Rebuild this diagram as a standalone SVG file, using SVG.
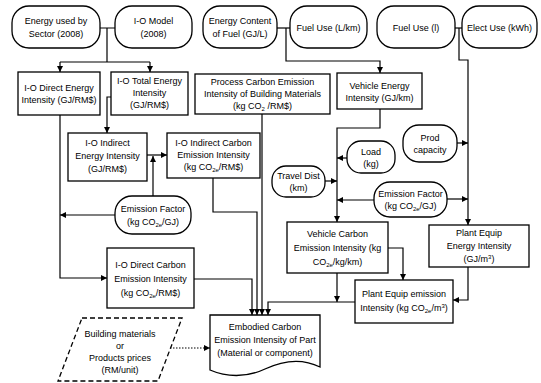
<svg xmlns="http://www.w3.org/2000/svg" width="541" height="383" viewBox="0 0 541 383">
<defs>
<style>
text{font-family:"Liberation Sans",Arial,sans-serif;font-size:9px;fill:#000;text-anchor:middle}
.s{font-size:6px}
.box{fill:#fff;stroke:#000;stroke-width:1.3}
.ln{fill:none;stroke:#000;stroke-width:1.2}
.arr{fill:none;stroke:#000;stroke-width:1.2;marker-end:url(#ah)}
.dash{fill:#fff;stroke:#000;stroke-width:1.3;stroke-dasharray:5 3}
.dot{fill:none;stroke:#000;stroke-width:1.2;stroke-dasharray:1.5 1.5;marker-end:url(#ah)}
</style>
<marker id="ah" viewBox="0 0 10 10" refX="10" refY="5" markerWidth="6" markerHeight="6" orient="auto" markerUnits="userSpaceOnUse"><path d="M0,0 L10,5 L0,10 z" fill="#000"/></marker>
</defs>
<rect width="541" height="383" fill="#fff"/>

<g id="connectors">
<path class="ln" d="M100,28 H115 M107,28 V62 M60,62 H150"/>
<path class="arr" d="M60,62 V72"/>
<path class="arr" d="M150,62 V72"/>
<path class="ln" d="M277,28 H290"/>
<path class="arr" d="M286,28 V61 H380 V73"/>
<path class="ln" d="M455,28 H462"/>
<path class="arr" d="M459,28 V60 H468 V225"/>
<path class="arr" d="M111,97 H107 V133"/>
<path class="arr" d="M147,155 H167"/>
<path class="arr" d="M153,196 V156"/>
<path class="arr" d="M60,115 V278 H107"/>
<path class="arr" d="M115,215 H60"/>
<path class="arr" d="M194,279 H252 V315"/>
<path class="arr" d="M213,178 V212 H257 V315"/>
<path class="arr" d="M262,114 V315"/>
<path class="arr" d="M355,302 H268 V315"/>
<path class="arr" d="M337,273 V302"/>
<path class="arr" d="M380,109 V128 H337 V222"/>
<path class="arr" d="M347,158 H337"/>
<path class="arr" d="M325,181 H337"/>
<path class="arr" d="M374,200 H337"/>
<path class="arr" d="M447,199 H468"/>
<path class="arr" d="M457,143 H468"/>
<path class="arr" d="M388,248 H403 V280"/>
<path class="arr" d="M468,267 V300 H453"/>
<path class="dot" d="M170,348 H210"/>
</g>

<g id="energy-sector"><rect class="box" x="12" y="6" width="88" height="42" rx="17"/><text x="56" y="24">Energy used by</text><text x="56" y="37">Sector (2008)</text></g>
<g id="io-model"><rect class="box" x="115" y="6" width="77" height="42" rx="17"/><text x="153.5" y="24">I-O Model</text><text x="153.5" y="37">(2008)</text></g>
<g id="energy-content"><rect class="box" x="203" y="6" width="74" height="42" rx="17"/><text x="240" y="24">Energy Content</text><text x="240" y="37">of Fuel (GJ/L)</text></g>
<g id="fuel-use-lkm"><rect class="box" x="290" y="6" width="77" height="42" rx="17"/><text x="328.5" y="31">Fuel Use (L/km)</text></g>
<g id="fuel-use-l"><rect class="box" x="377" y="6" width="78" height="42" rx="17"/><text x="416" y="31">Fuel Use (l)</text></g>
<g id="elect-use"><rect class="box" x="462" y="6" width="75" height="42" rx="17"/><text x="499.5" y="31">Elect Use (kWh)</text></g>

<g id="io-direct-energy"><rect class="box" x="18" y="72" width="82" height="43"/><text x="59" y="91">I-O Direct Energy</text><text x="59" y="103">Intensity (GJ/RM$)</text></g>
<g id="io-total-energy"><rect class="box" x="111" y="72" width="77" height="43"/><text x="149.5" y="84">I-O Total Energy</text><text x="149.5" y="96">Intensity</text><text x="149.5" y="108">(GJ/RM$)</text></g>
<g id="process-carbon"><rect class="box" x="195" y="74" width="135" height="40"/><text x="262.5" y="85">Process Carbon Emission</text><text x="262.5" y="97">Intensity of Building Materials</text><text x="262.5" y="109">(kg CO<tspan class="s" dy="2">2</tspan><tspan dy="-2"> /RM$)</tspan></text></g>
<g id="vehicle-energy"><rect class="box" x="337" y="73" width="85" height="36"/><text x="379.5" y="89">Vehicle Energy</text><text x="379.5" y="101">Intensity (GJ/km)</text></g>

<g id="io-indirect-energy"><rect class="box" x="68" y="133" width="79" height="48"/><text x="107.5" y="146">I-O Indirect</text><text x="107.5" y="159">Energy Intensity</text><text x="107.5" y="172">(GJ/RM$)</text></g>
<g id="io-indirect-carbon"><rect class="box" x="167" y="133" width="93" height="45"/><text x="213.5" y="146">I-O Indirect Carbon</text><text x="213.5" y="158">Emission Intensity</text><text x="213.5" y="170">(kg CO<tspan class="s" dy="2">2e</tspan><tspan dy="-2">/RM$)</tspan></text></g>
<g id="emission-factor-1"><rect class="box" x="115" y="196" width="76" height="38" rx="17"/><text x="153" y="212">Emission Factor</text><text x="153" y="225">(kg CO<tspan class="s" dy="2">2e</tspan><tspan dy="-2">/GJ)</tspan></text></g>
<g id="io-direct-carbon"><rect class="box" x="107" y="248" width="87" height="60"/><text x="150.5" y="268">I-O Direct Carbon</text><text x="150.5" y="282">Emission Intensity</text><text x="150.5" y="296">(kg CO<tspan class="s" dy="2">2e</tspan><tspan dy="-2">/RM$)</tspan></text></g>

<g id="load"><rect class="box" x="347" y="141" width="48" height="32" rx="14"/><text x="371" y="155">Load</text><text x="371" y="167">(kg)</text></g>
<g id="prod-capacity"><rect class="box" x="403" y="125" width="54" height="37" rx="16"/><text x="430" y="141">Prod</text><text x="430" y="153">capacity</text></g>
<g id="travel-dist"><rect class="box" x="272" y="166" width="53" height="31" rx="14"/><text x="298.5" y="179">Travel Dist</text><text x="298.5" y="191">(km)</text></g>
<g id="emission-factor-2"><rect class="box" x="374" y="182" width="73" height="35" rx="16"/><text x="410.5" y="197">Emission Factor</text><text x="410.5" y="209">(kg CO<tspan class="s" dy="2">2e</tspan><tspan dy="-2">/GJ)</tspan></text></g>

<g id="vehicle-carbon"><rect class="box" x="287" y="222" width="101" height="51"/><text x="337.5" y="237">Vehicle Carbon</text><text x="337.5" y="251">Emission Intensity (kg</text><text x="337.5" y="265">CO<tspan class="s" dy="2">2e</tspan><tspan dy="-2">/kg/km)</tspan></text></g>
<g id="plant-energy"><rect class="box" x="429" y="225" width="100" height="42"/><text x="479" y="236">Plant Equip</text><text x="479" y="249">Energy Intensity</text><text x="479" y="262">(GJ/m<tspan class="s" dy="-3">3</tspan><tspan dy="3">)</tspan></text></g>
<g id="plant-emission"><rect class="box" x="355" y="280" width="98" height="43"/><text x="404" y="297">Plant Equip emission</text><text x="404" y="311">Intensity (kg CO<tspan class="s" dy="2">2e</tspan><tspan dy="-2">/m</tspan><tspan class="s" dy="-3">3</tspan><tspan dy="3">)</tspan></text></g>

<g id="prices"><polygon class="dash" points="82,318 182,318 158,381 58,381"/><text x="120" y="337">Building materials</text><text x="120" y="349">or</text><text x="120" y="361">Products prices</text><text x="120" y="373">(RM/unit)</text></g>
<g id="embodied"><path class="box" d="M210,315 H320 V367 C302,358 284,360 265,369 C246,378 226,377 210,370 Z"/><text x="265" y="330">Embodied Carbon</text><text x="265" y="343">Emission Intensity of Part</text><text x="265" y="356">(Material or component)</text></g>
</svg>
